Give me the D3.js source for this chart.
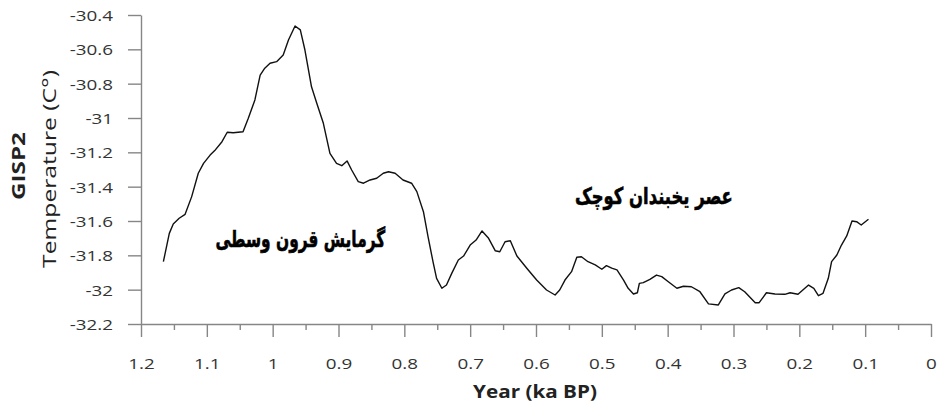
<!DOCTYPE html>
<html>
<head>
<meta charset="utf-8">
<script src="https://cdn.jsdelivr.net/npm/d3@7"></script>
<style>
  html, body { margin: 0; padding: 0; background: #fff; }
  svg { display: block; }
</style>
</head>
<body>
<svg id="chart" width="939" height="404"></svg>
<script>
// ---- Data ----
const ages = [1.166,1.157,1.151,1.142,1.133,1.123,1.113,1.105,1.095,1.088,1.077,1.069,1.060,1.045,1.037,1.027,1.019,1.012,1.004,0.994,0.984,0.976,0.966,0.958,0.951,0.941,0.933,0.923,0.913,0.903,0.895,0.887,0.880,0.870,0.862,0.852,0.842,0.832,0.824,0.814,0.802,0.789,0.781,0.771,0.764,0.756,0.751,0.743,0.736,0.728,0.718,0.710,0.700,0.691,0.682,0.672,0.662,0.655,0.647,0.639,0.629,0.614,0.599,0.584,0.571,0.564,0.556,0.546,0.538,0.531,0.521,0.510,0.500,0.493,0.485,0.477,0.467,0.460,0.452,0.446,0.443,0.437,0.427,0.417,0.409,0.399,0.386,0.376,0.364,0.351,0.338,0.323,0.313,0.303,0.292,0.283,0.267,0.261,0.250,0.237,0.222,0.214,0.202,0.186,0.178,0.171,0.164,0.156,0.151,0.143,0.136,0.128,0.120,0.113,0.106,0.095];
const temps = [-31.837,-31.672,-31.617,-31.584,-31.561,-31.458,-31.322,-31.264,-31.216,-31.190,-31.138,-31.083,-31.086,-31.080,-31.002,-30.895,-30.750,-30.710,-30.681,-30.672,-30.633,-30.546,-30.464,-30.487,-30.604,-30.818,-30.914,-31.031,-31.206,-31.264,-31.278,-31.250,-31.303,-31.371,-31.380,-31.361,-31.351,-31.322,-31.313,-31.322,-31.361,-31.380,-31.429,-31.546,-31.691,-31.846,-31.934,-31.992,-31.973,-31.905,-31.827,-31.804,-31.740,-31.711,-31.658,-31.701,-31.773,-31.779,-31.721,-31.715,-31.804,-31.875,-31.944,-32.002,-32.031,-32.002,-31.944,-31.895,-31.811,-31.808,-31.837,-31.856,-31.881,-31.860,-31.875,-31.885,-31.944,-31.992,-32.025,-32.018,-31.963,-31.959,-31.940,-31.915,-31.924,-31.954,-31.992,-31.980,-31.983,-32.012,-32.083,-32.089,-32.025,-32.002,-31.988,-32.012,-32.076,-32.076,-32.018,-32.025,-32.027,-32.018,-32.027,-31.973,-31.992,-32.035,-32.021,-31.934,-31.837,-31.798,-31.740,-31.687,-31.600,-31.604,-31.623,-31.590];

const yTicks = [-30.4,-30.6,-30.8,-31,-31.2,-31.4,-31.6,-31.8,-32,-32.2];
const yTickLabels = ["-30.4","-30.6","-30.8","-31","-31.2","-31.4","-31.6","-31.8","-32","-32.2"];
const xTicks = [1.2,1.1,1.0,0.9,0.8,0.7,0.6,0.5,0.4,0.3,0.2,0.1,0];
const xTickLabels = ["1.2","1.1","1","0.9","0.8","0.7","0.6","0.5","0.4","0.3","0.2","0.1","0"];
const xMinorTicks = [1.15,1.05,0.95,0.85,0.75,0.65,0.55,0.45,0.35,0.25,0.15,0.05];

const xTitle = "Year (ka BP)";
const yTitle1 = "GISP2";
const yTitle2 = "Temperature (C°)";
const annotations = [
  {text: "گرمایش قرون وسطی", age: 0.958, temp: -31.751},
  {text: "عصر یخبندان کوچک", age: 0.421, temp: -31.501}
];

// ---- Layout ----
const svg = d3.select("#chart");
const x = d3.scaleLinear().domain([1.2, 0]).range([141, 931]);
const y = d3.scaleLinear().domain([-30.4, -32.2]).range([15, 324]);
const axisColor = "#868686";
const labelColor = "#333";
const FONT = "'Open Sans', 'Liberation Sans', sans-serif";
const STRETCH = 1.3;

// Y axis
const gy = svg.append("g").attr("transform", `translate(${x(1.2)},0)`)
  .call(d3.axisLeft(y).tickValues(yTicks).tickFormat((d, i) => yTickLabels[i]).tickSize(13).tickSizeOuter(0));
gy.select(".domain").attr("stroke", axisColor).attr("stroke-width", 1.4);
gy.selectAll(".tick line").attr("stroke", axisColor).attr("stroke-width", 1.4);
gy.selectAll(".tick text")
  .attr("x", null).attr("dy", null)
  .attr("transform", `translate(-28,5.5) scale(${STRETCH},1)`)
  .attr("text-anchor", "end")
  .attr("font-family", FONT).attr("font-size", 14.5).attr("fill", labelColor);

// X axis (major)
const gx = svg.append("g").attr("transform", `translate(0,${y(-32.2)})`)
  .call(d3.axisBottom(x).tickValues(xTicks).tickFormat((d, i) => xTickLabels[i]).tickSize(13).tickSizeOuter(0));
gx.select(".domain").attr("stroke", axisColor).attr("stroke-width", 1.4);
gx.selectAll(".tick line").attr("stroke", axisColor).attr("stroke-width", 1.4);
gx.selectAll(".tick text")
  .attr("y", null).attr("dy", null)
  .attr("transform", `translate(0,44.5) scale(${STRETCH},1)`)
  .attr("text-anchor", "middle")
  .attr("font-family", FONT).attr("font-size", 14.5).attr("fill", labelColor);

// X axis (minor)
const gxm = svg.append("g").attr("transform", `translate(0,${y(-32.2)})`)
  .call(d3.axisBottom(x).tickValues(xMinorTicks).tickFormat("").tickSize(6).tickSizeOuter(0));
gxm.select(".domain").remove();
gxm.selectAll(".tick line").attr("stroke", axisColor).attr("stroke-width", 1.4);

// Line
const data = ages.map((a, i) => ({age: a, temp: temps[i]}));
svg.append("path")
  .datum(data)
  .attr("fill", "none")
  .attr("stroke", "#111")
  .attr("stroke-width", 1.4)
  .attr("stroke-linejoin", "round")
  .attr("d", d3.line().x(d => x(d.age)).y(d => y(d.temp)));

// Helper: place text stretched to a target width
function fitText(sel, cx, cy, targetW, rotate) {
  const w = sel.node().getComputedTextLength();
  const k = targetW / w;
  sel.attr("text-anchor", "middle")
     .attr("transform", `translate(${cx},${cy})${rotate ? " rotate(-90)" : ""} scale(${k},1)`);
}

// Titles
const tx = svg.append("text").text(xTitle)
  .attr("font-family", FONT).attr("font-weight", "bold").attr("font-size", 18).attr("fill", "#222");
fitText(tx, 535, 398, 124, false);

const ty1 = svg.append("text").text(yTitle1)
  .attr("font-family", FONT).attr("font-weight", "bold").attr("font-size", 18).attr("fill", "#222");
fitText(ty1, 25, 166, 68, true);

const ty2 = svg.append("text").text(yTitle2)
  .attr("font-family", FONT).attr("font-size", 18).attr("fill", "#222");
fitText(ty2, 56, 169, 198, true);

// Annotations
const annWidths = [170, 158];
annotations.forEach((a, i) => {
  const t = svg.append("text").text(a.text)
    .attr("font-family", "'DejaVu Sans', sans-serif").attr("font-weight", "bold")
    .attr("font-size", 23).attr("fill", "#000")
    .attr("stroke", "#000").attr("stroke-width", 0.6)
    .attr("direction", "rtl");
  fitText(t, x(a.age), y(a.temp), annWidths[i], false);
});
</script>
</body>
</html>
